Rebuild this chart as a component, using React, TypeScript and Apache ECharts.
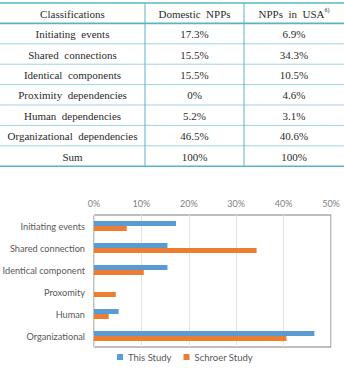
import React, { useEffect, useRef } from "react";
import * as echarts from "echarts";

const tableHeader = ["Classifications", "Domestic  NPPs", "NPPs  in  USA"];
const tableSup = "6)";
const classifications = [
  "Initiating  events",
  "Shared  connections",
  "Identical  components",
  "Proximity  dependencies",
  "Human  dependencies",
  "Organizational  dependencies",
  "Sum",
];
const domesticPct = ["17.3%", "15.5%", "15.5%", "0%", "5.2%", "46.5%", "100%"];
const usaPct = ["6.9%", "34.3%", "10.5%", "4.6%", "3.1%", "40.6%", "100%"];

const categories = [
  "Initiating events",
  "Shared connection",
  "Identical component",
  "Proxomity",
  "Human",
  "Organizational",
];
const thisStudy = [17.3, 15.5, 15.5, 0, 5.2, 46.5];
const schroerStudy = [6.9, 34.3, 10.5, 4.6, 3.1, 40.6];
const seriesNames = ["This Study", "Schroer Study"];

const W = 344;
const H = 368;

export default function App() {
  const ref = useRef<HTMLDivElement>(null);
  useEffect(() => {
    if (!ref.current) return;
    const chart = echarts.init(ref.current, undefined, { renderer: "svg" });

    const tTop = 3;
    const rowH = 20.4;
    const colX = [0, 145, 244, W];
    const nRows = classifications.length + 1;
    const serif = "'Liberation Serif', 'DejaVu Serif', serif";
    const thick = "#5ab3c6";
    const thin = "#9fd3df";
    const g: any[] = [];
    for (let i = 0; i <= nRows; i++) {
      const y = tTop + i * rowH;
      const isThick = i === 0 || i === 1 || i === nRows;
      g.push({
        type: "line",
        shape: { x1: 0, y1: y, x2: W, y2: y },
        style: { stroke: isThick ? thick : thin, lineWidth: isThick ? 1.6 : 1 },
      });
    }
    for (const cx of [colX[1], colX[2]]) {
      g.push({
        type: "line",
        shape: { x1: cx, y1: tTop, x2: cx, y2: tTop + nRows * rowH },
        style: { stroke: thick, lineWidth: 1 },
      });
    }
    const rows = [tableHeader, ...classifications.map((c, i) => [c, domesticPct[i], usaPct[i]])];
    rows.forEach((r, ri) => {
      const yc = tTop + ri * rowH + rowH / 2 + 0.5;
      r.forEach((txt, ci) => {
        const xc = (colX[ci] + colX[ci + 1]) / 2;
        const isSup = ri === 0 && ci === 2;
        g.push({
          type: "text",
          x: xc,
          y: yc,
          style: {
            text: isSup ? `${txt}{s|${tableSup}}` : txt,
            rich: isSup ? { s: { fontSize: 6, fill: "#333", padding: [0, 0, 7, 0], fontFamily: serif } } : undefined,
            fontFamily: serif,
            fontSize: 11,
            fill: "#2b2b2b",
            align: "center",
            verticalAlign: "middle",
          },
        });
      });
    });

    const sans = "Lato, 'Open Sans', sans-serif";
    chart.setOption({
      animation: false,
      graphic: g,
      grid: {
        left: 94,
        right: W - 331,
        top: 215,
        bottom: H - 347,
        show: true,
        borderColor: "#7f7f7f",
        borderWidth: 1,
        containLabel: false,
        outerBoundsMode: "none",
      },
      legend: {
        bottom: 1,
        left: 112,
        itemWidth: 6,
        itemHeight: 6,
        itemGap: 12,
        icon: "rect",
        textStyle: { color: "#595959", fontFamily: sans, fontSize: 9.5 },
        data: seriesNames,
      },
      xAxis: {
        type: "value",
        position: "top",
        min: 0,
        max: 50,
        interval: 10,
        axisLine: { show: false },
        axisTick: { show: false },
        axisLabel: { formatter: "{value}%", color: "#7f7f7f", fontFamily: sans, fontSize: 9, margin: 7 },
        splitLine: { lineStyle: { color: "#e3e3e3" } },
      },
      yAxis: {
        type: "category",
        inverse: true,
        data: categories,
        axisLine: { show: false },
        axisTick: { show: false },
        axisLabel: { color: "#595959", fontFamily: sans, fontSize: 9.2, margin: 9 },
      },
      series: [
        {
          name: seriesNames[0],
          type: "bar",
          data: thisStudy,
          barWidth: 5,
          barGap: "0%",
          itemStyle: { color: "#5b9bd5" },
        },
        {
          name: seriesNames[1],
          type: "bar",
          data: schroerStudy,
          barWidth: 5,
          barGap: "0%",
          itemStyle: { color: "#ed7d31" },
        },
      ],
    });
    return () => chart.dispose();
  }, []);
  return (
    <div
      ref={ref}
      style={{ position: "absolute", left: 0, top: 0, width: W, height: H, background: "#fff" }}
    />
  );
}
